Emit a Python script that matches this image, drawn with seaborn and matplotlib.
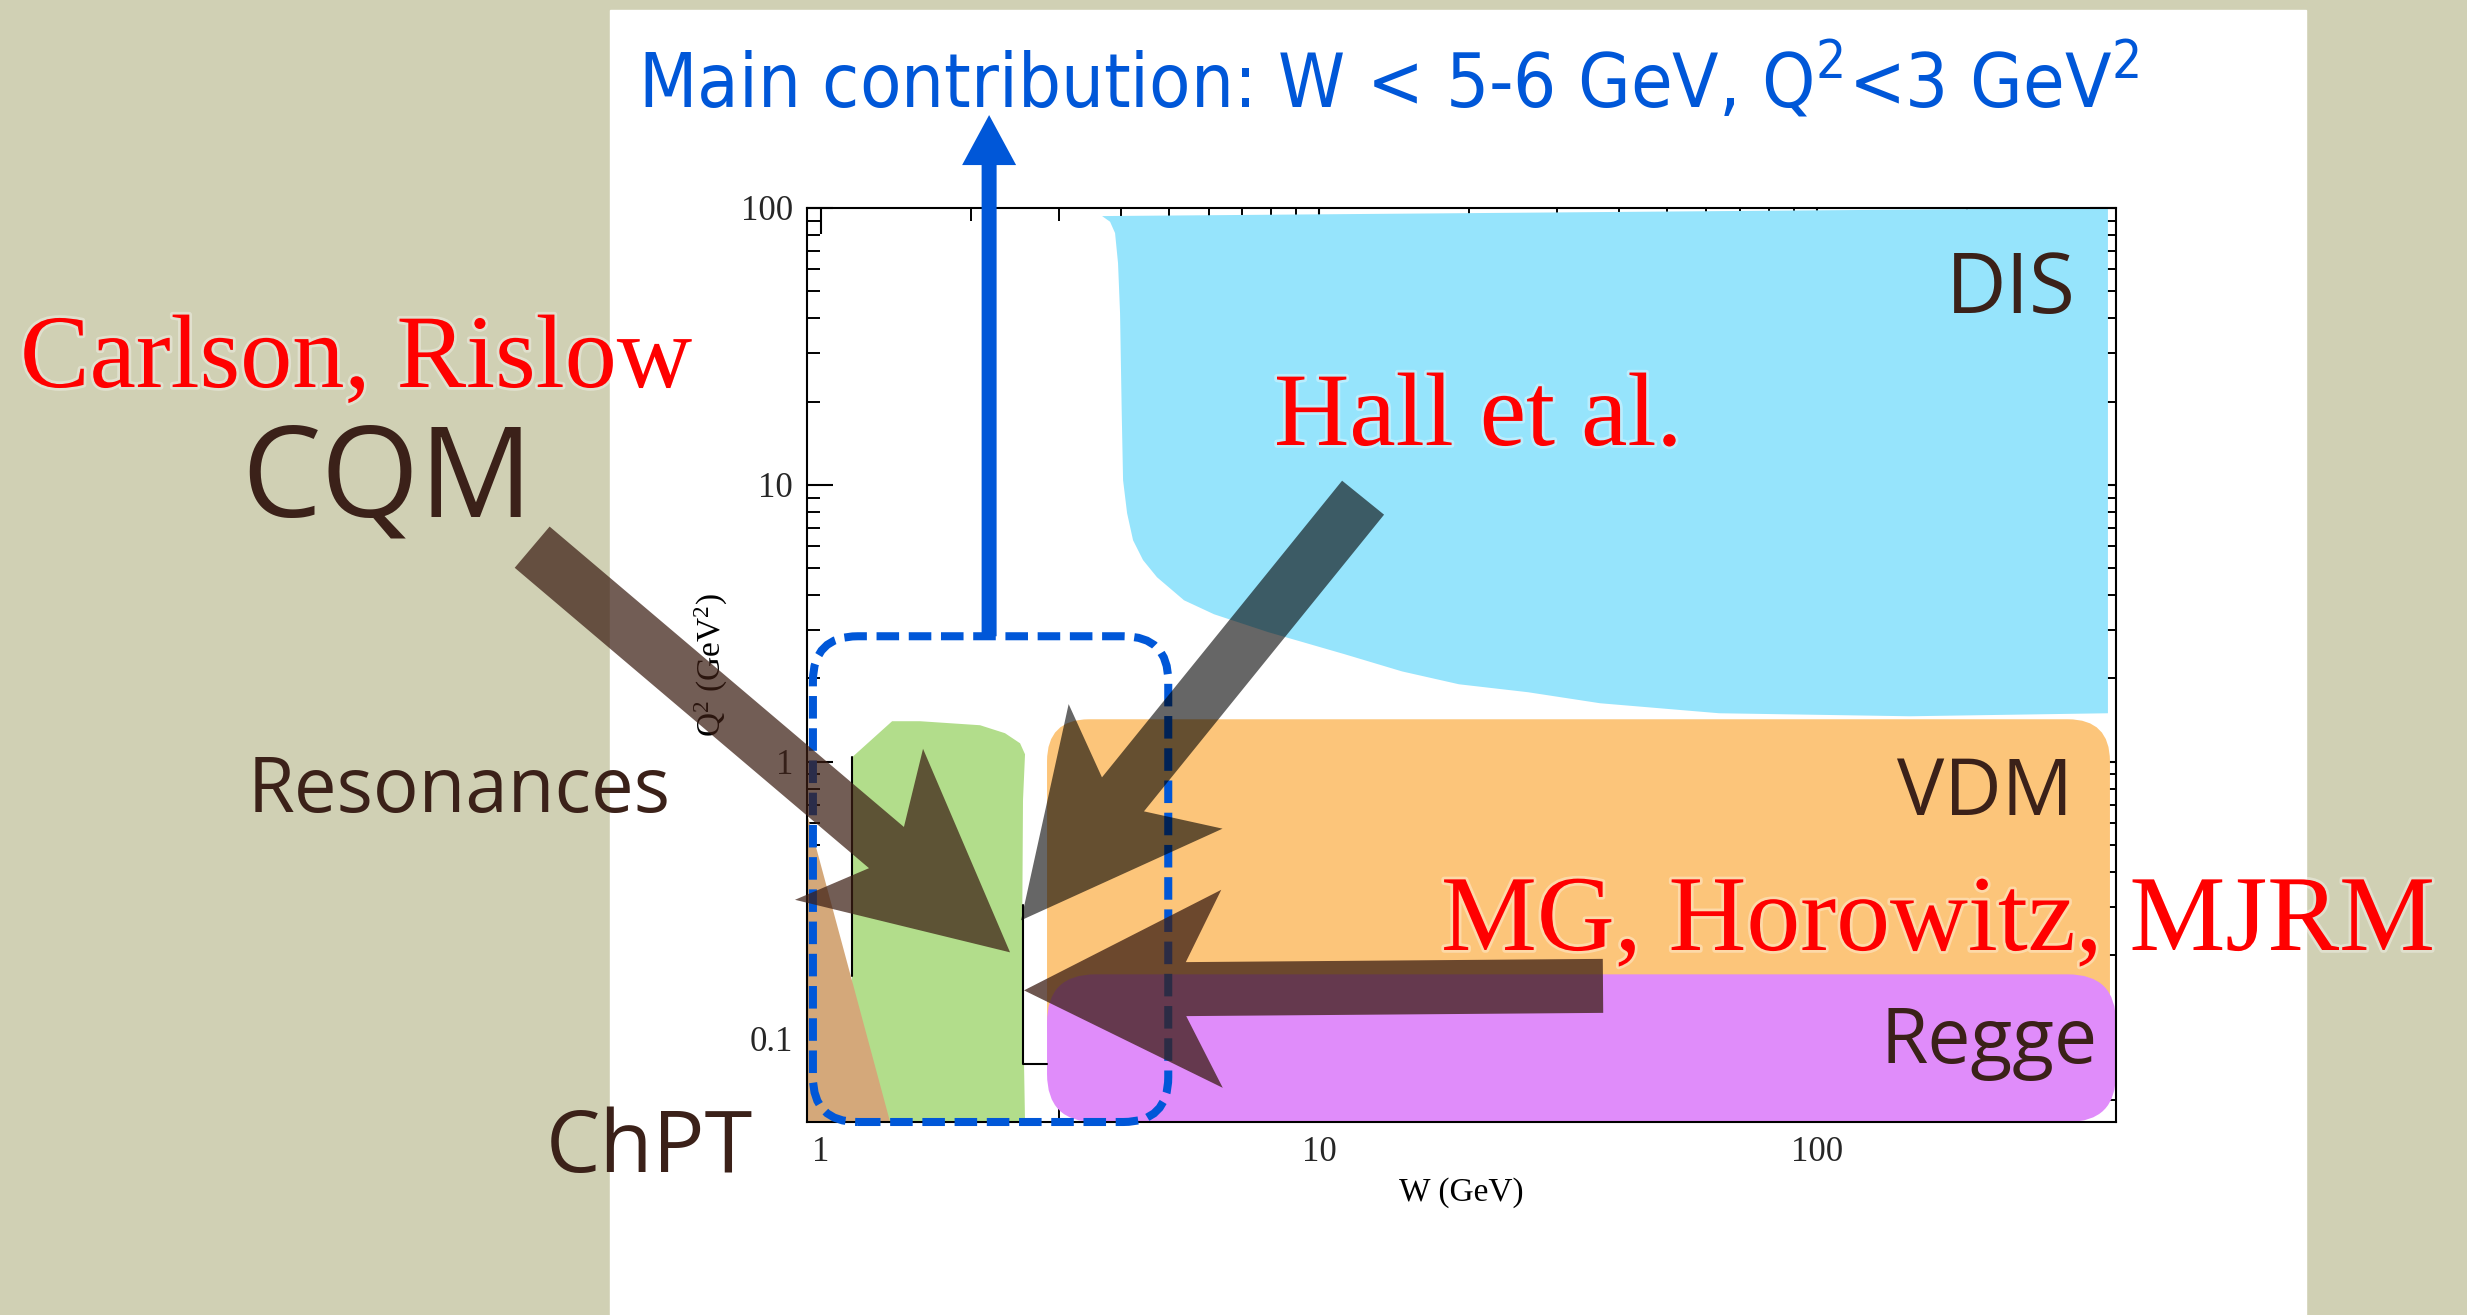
import numpy as np
import matplotlib
matplotlib.use("Agg")
import matplotlib.pyplot as plt
import seaborn as sns
from matplotlib.patches import Polygon, Rectangle, FancyBboxPatch
from matplotlib.transforms import IdentityTransform
from matplotlib.ticker import NullFormatter
import matplotlib.patheffects as pe

# kinematic regions: W (GeV) and Q^2 (GeV^2)
dis_w = [3.667, 3.805, 3.894, 3.948, 3.985, 4.016, 4.041, 4.117, 4.232, 4.432, 4.727,
         5.357, 6.154, 7.90, 11.22, 14.68, 19.10, 26.29, 36.67, 63.6, 153.7, 384, 384]
dis_q2 = [93.5, 89.2, 81.2, 63.2, 41.7, 18.2, 10.4, 7.90, 6.31, 5.35, 4.64,
          3.83, 3.41, 2.94, 2.45, 2.12, 1.905, 1.783, 1.627, 1.497, 1.460, 1.497, 100]

res_w = [1.154, 1.154, 1.389, 1.580, 2.086, 2.341, 2.510, 2.568, 2.544, 2.533, 2.568]
res_q2 = [0.05, 1.038, 1.401, 1.401, 1.355, 1.268, 1.166, 1.064, 0.726, 0.208, 0.05]

chpt_w = [0.937, 0.937, 1.376]
chpt_q2 = [0.05, 0.65, 0.05]

# boxes: W min, W max, Q2 min, Q2 max
vdm_box = [2.843, 387.6, 0.0807, 1.424]
regge_box = [2.843, 398.6, 0.05, 0.1707]
main_box = [0.963, 4.98, 0.05, 2.84]

# thin leftover curves of the original plot
curve1_w = [1.154, 1.154]
curve1_q2 = [1.038, 0.169]
curve2_w = [2.544, 2.544, 2.843]
curve2_q2 = [0.303, 0.0807, 0.0807]

# arrows: (tail, tip) in (W, Q2)
arrow_cqm = [(0.2629, 5.957), (2.396, 0.2050)]
arrow_hall = [(12.26, 8.99), (2.521, 0.2676)]
arrow_mg = [(37.18, 0.1551), (2.556, 0.1494)]
arrow_main = [(2.175, 2.84), (2.175, 216.6)]

x_ticks = [1, 10, 100]
x_tick_labels = ["1", "10", "100"]
y_ticks = [0.1, 1, 10, 100]
y_tick_labels = ["0.1", "1", "10", "100"]

W, H = 2467, 1315
beige = "#d0d0b4"
blue = "#0057d8"
brown = "#3b2119"

sns.set_style("ticks")
plt.rcParams["font.family"] = ["Liberation Serif", "DejaVu Serif"]
plt.rcParams["mathtext.default"] = "regular"

fig = plt.figure(figsize=(W / 100, H / 100), dpi=100)
fig.patch.set_facecolor(beige)
fig.add_artist(Rectangle((610 / W, 0), (2306 - 610) / W, (1315 - 10) / H,
                         transform=fig.transFigure, color="white", zorder=-5))

ax = fig.add_axes([807 / W, 1 - 1122 / H, (2116 - 807) / W, (1122 - 208) / H])
ax.set_facecolor("none")
ax.set_xscale("log")
ax.set_yscale("log")
ax.set_xlim(0.937, 398.6)
ax.set_ylim(0.05, 100)

ax.fill(dis_w, dis_q2, color="#96e4fc", lw=0, zorder=0.6)
ax.fill(res_w, res_q2, color="#b2dd8b", lw=0, zorder=0.9)
ax.fill(chpt_w, chpt_q2, color="#d4a87a", lw=0, zorder=1.0)

sns.lineplot(x=curve1_w, y=curve1_q2, sort=False, estimator=None, color="black",
             lw=1.5, ax=ax, zorder=1.2)
sns.lineplot(x=curve2_w, y=curve2_q2, sort=False, estimator=None, color="black",
             lw=1.5, ax=ax, zorder=1.2)


def round_box(box, r, **kw):
    x0, y0 = ax.transData.transform((box[0], box[2]))
    x1, y1 = ax.transData.transform((box[1], box[3]))
    p = FancyBboxPatch((x0, y0), x1 - x0, y1 - y0,
                       boxstyle=f"round,pad=0,rounding_size={r}",
                       transform=IdentityTransform(), clip_on=False, **kw)
    ax.add_patch(p)


def fat_arrow(tail, tip, shaft, head, head_len, barb_len, **kw):
    p0 = np.array(ax.transData.transform(tail))
    p1 = np.array(ax.transData.transform(tip))
    d = p1 - p0
    u = d / np.hypot(*d)
    n = np.array([-u[1], u[0]])
    pts = [p0 + n * shaft / 2,
           p1 - u * head_len + n * shaft / 2,
           p1 - u * barb_len + n * head / 2,
           p1,
           p1 - u * barb_len - n * head / 2,
           p1 - u * head_len - n * shaft / 2,
           p0 - n * shaft / 2]
    ax.add_patch(Polygon(pts, closed=True, transform=IdentityTransform(),
                         clip_on=False, lw=0, **kw))


round_box(vdm_box, 42, facecolor="#fcc57a", lw=0, zorder=0.7)
round_box(regge_box, 48, facecolor="#e08cfa", lw=0, zorder=0.8)
round_box(main_box, 45, fill=False, edgecolor=blue, lw=5.8,
          linestyle=(0, (2.8, 1.2)), zorder=3)

fat_arrow(*arrow_main, 15, 54, 50, 50, color=blue, zorder=3.5)
fat_arrow(*arrow_cqm, 54, 198, 162, 198, color="#3c1e14", alpha=0.72, zorder=4)
fat_arrow(*arrow_hall, 54, 198, 162, 198, color="black", alpha=0.6, zorder=4)
fat_arrow(*arrow_mg, 54, 198, 162, 198, color="#3c1e14", alpha=0.75, zorder=4)

ax.set_xticks(x_ticks, x_tick_labels)
ax.set_yticks(y_ticks, y_tick_labels)
ax.xaxis.set_minor_formatter(NullFormatter())
ax.yaxis.set_minor_formatter(NullFormatter())
ax.tick_params(which="both", direction="in", top=True, right=True, color="black")
ax.tick_params(which="major", length=18.7, width=1.5, labelsize=25, pad=10)
ax.tick_params(which="minor", length=9.4, width=1.4)
for s in ax.spines.values():
    s.set_color("black")
    s.set_linewidth(1.5)
    s.set_zorder(2.5)
ax.set_xlabel("W (GeV)", fontsize=24, labelpad=6, color="black")
ax.set_ylabel("Q$^2$ (GeV$^2$)", fontsize=24, labelpad=8, color="black")


def px(x, y):
    return x / W, 1 - y / H


serif = ["Liberation Serif", "DejaVu Serif"]
rough = ["Open Sans", "DejaVu Sans"]
glow = [pe.withStroke(linewidth=4, foreground="white", alpha=0.35)]

fits = []


def label(x, y, s, width, ha="left", **kw):
    t = fig.text(*px(x, y), s, ha=ha, va="baseline", zorder=10, **kw)
    fits.append((t, width))


label(638, 107, "Main contribution: W < 5-6 GeV, Q$^2$<3 GeV$^2$", 1502,
      color=blue, fontsize=50, family=["Liberation Sans Narrow", "DejaVu Sans"],
      fontstretch="condensed")
label(20, 387, "Carlson, Rislow", 672, color="red", fontsize=74, family=serif,
      path_effects=glow)
label(241, 517, "CQM", 292, color=brown, fontsize=82, family=rough)
label(1274, 445, "Hall et al.", 408, color="red", fontsize=74, family=serif,
      path_effects=glow)
label(2076, 313, "DIS", 130, ha="right", color=brown, fontsize=52, family=rough)
label(2073, 815, "VDM", 176, ha="right", color=brown, fontsize=52, family=rough)
label(1441, 950, "MG, Horowitz, MJRM", 994, color="red", fontsize=74, family=serif,
      path_effects=glow)
label(2098, 1063, "Regge", 217, ha="right", color=brown, fontsize=52, family=rough)
label(248, 812, "Resonances", 423, color=brown, fontsize=52, family=rough)
label(546, 1172, "ChPT", 207, color=brown, fontsize=52, family=rough)

renderer = fig.canvas.get_renderer()
for t, w in fits:
    bb = t.get_window_extent(renderer)
    t.set_fontsize(t.get_fontsize() * w / bb.width)

fig.savefig("out.png", dpi=100, facecolor=fig.get_facecolor())
